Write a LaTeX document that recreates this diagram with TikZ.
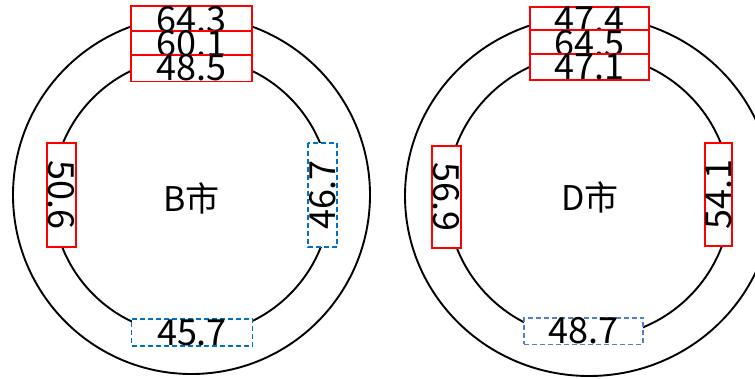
\documentclass[tikz,border=0pt]{standalone}
\usepackage{fontspec}
\setmainfont{Noto Sans CJK SC}
\definecolor{boxred}{HTML}{FF0000}
\definecolor{boxblue}{HTML}{0070C0}
\definecolor{softblue}{HTML}{4F7FC8}
\begin{document}
\begin{tikzpicture}[x=1pt,y=-1pt,
  ring/.style={draw=black,line width=1.9pt},
  valbox/.style={draw,line width=1.6pt,fill=white,inner sep=0pt,
    font=\fontsize{36}{36}\selectfont},
  redbox/.style={valbox,draw=boxred},
  bluebox/.style={valbox,draw=boxblue,dashed,dash pattern=on 5pt off 3pt},
  softbox/.style={valbox,draw=softblue,dashed,dash pattern=on 5pt off 3pt},
  hbox/.style={minimum width=121pt,minimum height=24.5pt},
  vbox/.style={minimum width=104pt,minimum height=29pt},
  city/.style={font=\fontsize{34}{34}\selectfont,inner sep=0pt}]
\useasboundingbox (0,0) rectangle (755,378);
\fill[white] (0,0) rectangle (755,378);

% rings of city B
\draw[ring] (191.5,195) ellipse [x radius=178.5, y radius=179];
\draw[ring] (191.5,196) circle [radius=139];
% rings of city D
\draw[ring] (589,196) ellipse [x radius=184, y radius=180];
\draw[ring] (589,196) circle [radius=142];

% city B values
\node[redbox,hbox] (b1) at (191.5,19.5) {64.3};
\node[redbox,hbox] (b2) at (191.5,44) {60.1};
\node[redbox,hbox] (b3) at (191.5,68) {48.5};
\node[redbox,vbox,rotate=-90] (bl) at (61.5,195) {50.6};
\node[bluebox,vbox,rotate=90] (br) at (322.5,195) {46.7};
\node[bluebox,hbox,minimum height=27pt] (bb) at (192,332.5) {45.7};
\node[city] (bc) at (191.5,198) {B市};

% city D values
\node[redbox,hbox,minimum width=119pt] (d1) at (589.5,20) {47.4};
\node[redbox,hbox,minimum width=119pt,minimum height=23.5pt] (d2) at (589.5,43.5) {64.5};
\node[redbox,hbox,minimum width=119pt] (d3) at (589.5,67) {47.1};
\node[redbox,vbox,minimum width=102pt,rotate=-90] (dl) at (446.5,197) {56.9};
\node[redbox,vbox,minimum width=103pt,minimum height=27pt,rotate=90] (dr) at (718.5,194.5) {54.1};
\node[softbox,hbox,minimum width=119pt,minimum height=24pt] (db) at (583.5,331) {48.7};
\node[city] (dc) at (590,197) {D市};
\end{tikzpicture}
\end{document}
